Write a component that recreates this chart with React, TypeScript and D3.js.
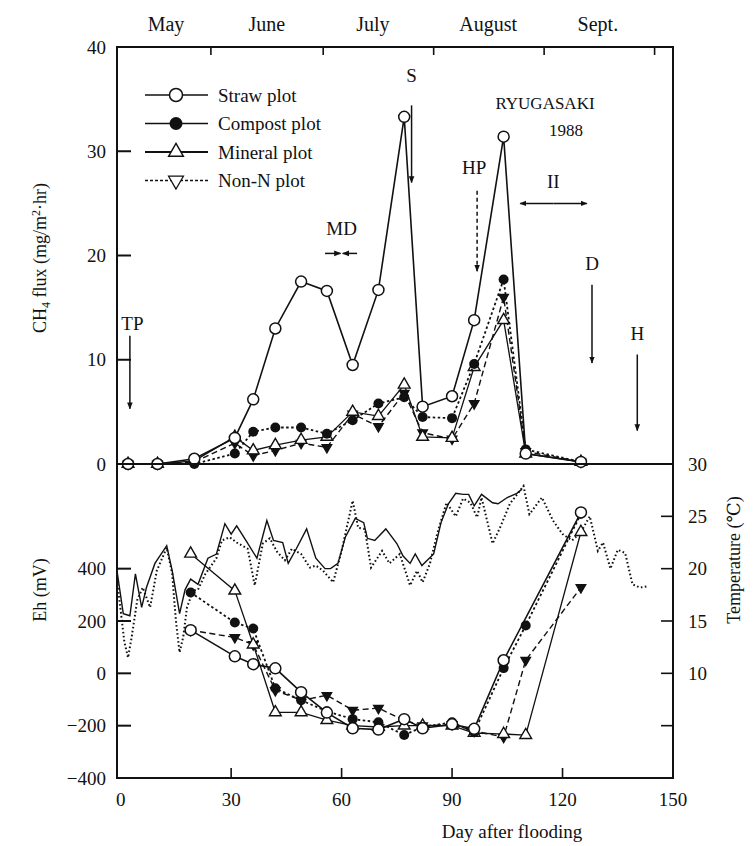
import React, { useRef, useEffect } from 'react';
import * as d3 from 'd3';

// CH4 flux sampling days and values (mg/m2/hr)
const fluxDays = [2, 10, 20, 31, 36, 42, 49, 56, 63, 70, 77, 82, 90, 96, 104, 110, 125];
const strawFlux = [0, 0, 0.5, 2.5, 6.2, 13.0, 17.5, 16.6, 9.5, 16.7, 33.3, 5.5, 6.5, 13.8, 31.4, 1.0, 0.2];
const compostFlux = [0, 0, 0, 1.0, 3.1, 3.5, 3.5, 2.9, 4.2, 5.8, 6.4, 4.5, 4.4, 9.6, 17.7, 1.4, 0.2];
const mineralFlux = [0, 0, 0.3, 2.6, 1.3, 1.8, 2.3, 2.6, 5.0, 4.6, 7.6, 2.6, 2.5, 9.3, 13.8, 1.0, 0.2];
const nonNFlux = [0, 0, 0.2, 2.0, 0.8, 1.3, 2.0, 1.6, 4.8, 3.6, 6.8, 3.0, 2.4, 5.8, 16.0, 1.2, 0.2];

// Eh (mV)
const ehDays = [19, 31, 36, 42, 49, 56, 63, 70, 77, 82, 90, 96, 104, 110, 125];
const strawEh = [165, 65, 35, 19, -72, -150, -210, -215, -175, -210, -195, -212, 50, null, 615];
const compostEh = [309, 194, 171, -57, -103, -145, -175, -187, -236, -205, -187, -225, 20, 183, 610];
const mineralEh = [457, 316, 110, -149, -149, -179, -200, -205, -200, -200, -200, -228, -232, -236, 540];
const nonNEh = [165, 137, 110, -65, -103, -84, -141, -133, -180, -200, -195, -220, -244, 50, 328];

// temperature (C), two daily records
const tempSolidDays = [-1, 0.7, 2.5, 4, 5.7, 7, 9.3, 12.5, 14, 16, 17.5, 19, 21, 23.7, 26, 28.3, 30, 31.5, 34, 37, 39.7, 41.5, 44, 45.5, 47.7, 50.5, 53, 55.5, 57, 59, 61, 63.7, 66, 67, 69, 72, 75, 76.7, 78.6, 80, 81.8, 85, 87, 89, 91, 93, 94.5, 96, 98, 101, 102.5, 105, 107.6, 109];
const tempSolid = [19.8, 15.7, 15.5, 19.5, 16.3, 18.2, 20.5, 22.2, 19.8, 15.7, 18, 19, 18.5, 21, 21.4, 24.3, 23.3, 24.1, 22.7, 21, 24.6, 22.7, 22.5, 20.5, 21.9, 23.8, 21, 20.0, 20, 20.5, 23, 24.8, 24.4, 22.9, 22.7, 23.8, 22.4, 21.2, 20.5, 21.4, 20.3, 21.4, 24.4, 26.2, 27.2, 27.1, 27.1, 26, 27.1, 26.3, 26.2, 26.8, 27.2, 27.6];
const tempDottedDays = [-1, 0, 1, 2, 3, 4.5, 6, 8, 9.8, 12.5, 14, 15, 16, 17, 18, 19.7, 21, 23, 26, 27.5, 29.6, 31.5, 34.5, 36.4, 38.6, 40.5, 42.5, 44.6, 46.5, 49, 51.4, 53, 55, 57.7, 60, 63, 64.5, 66.3, 68, 71, 73, 75.8, 78.6, 80.5, 82, 84, 86, 88.5, 91, 93, 95, 96.8, 98, 101, 103, 105.7, 109.4, 111, 114.4, 117.4, 120, 122.6, 125, 127.4, 129.6, 131, 133, 135, 137, 139, 141, 143];
const tempDotted = [18.9, 16, 13, 11.5, 13.5, 17, 18.2, 16.3, 19.8, 22, 19.5, 15, 12, 13.5, 16.3, 17.9, 18, 19.5, 21, 22.7, 23, 22.5, 21.9, 18.4, 22.4, 22.9, 21.6, 20.8, 21.9, 21.4, 20.1, 20.3, 19.8, 18.7, 21.7, 26.5, 23.9, 23.8, 20.1, 21.7, 20.5, 21.4, 18.4, 19.8, 18.7, 20.5, 23.4, 26.3, 25, 26.7, 26.3, 24.9, 26.8, 22.4, 23.9, 26.2, 27.9, 25.2, 26.8, 24.6, 23.3, 22.7, 23.5, 25, 21.7, 22.5, 20, 21.8, 21.5, 18.5, 18.2, 18.3];

const xTicks = [0, 30, 60, 90, 120, 150];
const fluxTicks = [0, 10, 20, 30, 40];
const ehTicks = [-400, -200, 0, 200, 400];
const tempTicks = [10, 15, 20, 25, 30];
const months = ['May', 'June', 'July', 'August', 'Sept.'];
const monthMid = [12.3, 39.7, 68.5, 99.8, 129.6];
const monthEnds = [24.5, 55, 85, 115, 145];
const legendNames = ['Straw plot', 'Compost plot', 'Mineral plot', 'Non-N plot'];

const FONT = 'Liberation Serif, Times New Roman, DejaVu Serif, serif';

const App = () => {
  const svgRef = useRef(null);

  useEffect(() => {
    const svg = d3.select(svgRef.current);
    svg.selectAll('*').remove();

    const x = d3.scaleLinear().domain([-1, 150]).range([117, 673]);
    const yFlux = d3.scaleLinear().domain([0, 40]).range([464, 47]);
    const yEh = d3.scaleLinear().domain([-400, 800]).range([778, 464]);
    const yT = d3.scaleLinear().domain([0, 30]).range([778, 464]);

    const defs = svg.append('defs');
    defs.append('marker')
      .attr('id', 'head')
      .attr('viewBox', '0 0 10 10')
      .attr('refX', 9).attr('refY', 5)
      .attr('markerWidth', 7).attr('markerHeight', 7)
      .attr('orient', 'auto-start-reverse')
      .attr('markerUnits', 'userSpaceOnUse')
      .append('path').attr('d', 'M0,1 L10,5 L0,9 Z').attr('fill', '#111');

    const styles = {
      straw: { dash: null, w: 1.6 },
      compost: { dash: '2.5,2.5', w: 1.8 },
      mineral: { dash: null, w: 1.3 },
      nonN: { dash: '6,3.5', w: 1.4 },
    };

    const drawMarker = (g, kind, cx, cy, legend = false) => {
      if (kind === 'straw') {
        g.append('circle').attr('cx', cx).attr('cy', cy).attr('r', legend ? 6.5 : 5.5)
          .attr('fill', '#fff').attr('stroke', '#111').attr('stroke-width', 1.5);
      } else if (kind === 'compost') {
        g.append('circle').attr('cx', cx).attr('cy', cy).attr('r', legend ? 6.5 : 5)
          .attr('fill', '#111');
      } else if (kind === 'mineral') {
        g.append('path').attr('d', d3.symbol(d3.symbolTriangle, legend ? 95 : 60)())
          .attr('transform', `translate(${cx},${cy})`)
          .attr('fill', '#fff').attr('stroke', '#111').attr('stroke-width', 1.4);
      } else {
        g.append('path').attr('d', d3.symbol(d3.symbolTriangle, legend ? 95 : 40)())
          .attr('transform', `translate(${cx},${cy}) rotate(180)`)
          .attr('fill', legend ? '#fff' : '#111').attr('stroke', '#111').attr('stroke-width', 1.3);
      }
    };

    const drawSeries = (days, vals, y, kind) => {
      const pts = days.map((d, i) => [d, vals[i]]).filter((p) => p[1] !== null);
      const line = d3.line().x((d) => x(d[0])).y((d) => y(d[1]));
      const g = svg.append('g');
      g.append('path').attr('d', line(pts)).attr('fill', 'none')
        .attr('stroke', '#111').attr('stroke-width', styles[kind].w)
        .attr('stroke-dasharray', styles[kind].dash);
      pts.forEach((p) => drawMarker(g, kind, x(p[0]), y(p[1])));
    };

    // temperature lines first (behind)
    const tLine = d3.line().x((d) => x(d[0])).y((d) => yT(d[1]));
    svg.append('path')
      .attr('d', tLine(tempDottedDays.map((d, i) => [d, tempDotted[i]])))
      .attr('fill', 'none').attr('stroke', '#111').attr('stroke-width', 2)
      .attr('stroke-dasharray', '1.6,2.4');
    svg.append('path')
      .attr('d', tLine(tempSolidDays.map((d, i) => [d, tempSolid[i]])))
      .attr('fill', 'none').attr('stroke', '#111').attr('stroke-width', 1.4);

    // flux series
    drawSeries(fluxDays, nonNFlux, yFlux, 'nonN');
    drawSeries(fluxDays, mineralFlux, yFlux, 'mineral');
    drawSeries(fluxDays, compostFlux, yFlux, 'compost');
    drawSeries(fluxDays, strawFlux, yFlux, 'straw');

    // Eh series
    drawSeries(ehDays, nonNEh, yEh, 'nonN');
    drawSeries(ehDays, mineralEh, yEh, 'mineral');
    drawSeries(ehDays, compostEh, yEh, 'compost');
    drawSeries(ehDays, strawEh, yEh, 'straw');

    // frames
    const axisG = svg.append('g').attr('stroke', '#111').attr('fill', 'none');
    axisG.append('rect').attr('x', x(-1)).attr('y', yFlux(40))
      .attr('width', x(150) - x(-1)).attr('height', yFlux(0) - yFlux(40)).attr('stroke-width', 2);
    axisG.append('rect').attr('x', x(-1)).attr('y', yEh(800))
      .attr('width', x(150) - x(-1)).attr('height', yEh(-400) - yEh(800)).attr('stroke-width', 2);

    // ticks
    fluxTicks.filter((t) => t > 0 && t < 40).forEach((t) => {
      axisG.append('line').attr('x1', x(-1)).attr('x2', x(-1) + 14)
        .attr('y1', yFlux(t)).attr('y2', yFlux(t)).attr('stroke-width', 2);
    });
    ehTicks.filter((t) => t > -400).forEach((t) => {
      axisG.append('line').attr('x1', x(-1)).attr('x2', x(-1) + 14)
        .attr('y1', yEh(t)).attr('y2', yEh(t)).attr('stroke-width', 2);
    });
    [5, 10, 15, 20, 25].forEach((t) => {
      axisG.append('line').attr('x1', x(150)).attr('x2', x(150) - 12)
        .attr('y1', yT(t)).attr('y2', yT(t)).attr('stroke-width', 1.6);
    });
    xTicks.filter((t) => t > 0 && t < 150).forEach((t) => {
      axisG.append('line').attr('x1', x(t)).attr('x2', x(t))
        .attr('y1', yEh(-400)).attr('y2', yEh(-400) - 10).attr('stroke-width', 1.6);
    });
    monthEnds.forEach((t) => {
      axisG.append('line').attr('x1', x(t)).attr('x2', x(t))
        .attr('y1', yFlux(40)).attr('y2', yFlux(40) + 8).attr('stroke-width', 1.6);
    });

    // tick labels
    const txt = svg.append('g').style('font-family', FONT).attr('fill', '#111').style('font-size', '19px');
    fluxTicks.forEach((t) => {
      txt.append('text').attr('x', 106).attr('y', yFlux(t)).attr('dy', '0.35em')
        .attr('text-anchor', 'end').text(t);
    });
    ehTicks.forEach((t) => {
      txt.append('text').attr('x', 106).attr('y', yEh(t)).attr('dy', '0.35em')
        .attr('text-anchor', 'end').text(t < 0 ? `\u2212${-t}` : t);
    });
    tempTicks.forEach((t) => {
      txt.append('text').attr('x', 688).attr('y', yT(t)).attr('dy', '0.35em')
        .attr('text-anchor', 'start').text(t);
    });
    xTicks.forEach((t) => {
      txt.append('text').attr('x', x(t)).attr('y', 806).attr('text-anchor', 'middle').text(t);
    });
    months.forEach((m, i) => {
      txt.append('text').attr('x', x(monthMid[i])).attr('y', 31).attr('text-anchor', 'middle')
        .style('font-size', '20px').text(m);
    });
    txt.append('text').attr('x', 512).attr('y', 838).attr('text-anchor', 'middle').text('Day after flooding');

    const fluxLabel = txt.append('text')
      .attr('transform', 'translate(46,258) rotate(-90)').attr('text-anchor', 'middle').style('font-size', '18px');
    fluxLabel.append('tspan').text('CH');
    fluxLabel.append('tspan').style('font-size', '12px').attr('dy', 4).text('4');
    fluxLabel.append('tspan').attr('dy', -4).text(' flux (mg/m');
    fluxLabel.append('tspan').style('font-size', '12px').attr('dy', -6).text('2');
    fluxLabel.append('tspan').attr('dy', 6).text('\u00b7hr)');
    txt.append('text').attr('transform', 'translate(46,590) rotate(-90)')
      .attr('text-anchor', 'middle').style('font-size', '18px').text('Eh (mV)');
    txt.append('text').attr('transform', 'translate(740,560) rotate(-90)')
      .attr('text-anchor', 'middle').style('font-size', '18px').text('Temperature (\u2103)');

    txt.append('text').attr('x', 545).attr('y', 109).attr('text-anchor', 'middle').style('font-size', '17px').text('RYUGASAKI');
    txt.append('text').attr('x', 566).attr('y', 136).attr('text-anchor', 'middle').style('font-size', '17px').text('1988');

    // legend
    const lg = svg.append('g');
    legendNames.forEach((name, i) => {
      const kind = ['straw', 'compost', 'mineral', 'nonN'][i];
      const ly = 95 + i * 28.5;
      lg.append('line').attr('x1', 145).attr('x2', 208).attr('y1', ly).attr('y2', ly)
        .attr('stroke', '#111').attr('stroke-width', kind === 'mineral' ? 2 : 1.4)
        .attr('stroke-dasharray', kind === 'nonN' ? '3,2' : null);
      drawMarker(lg, kind, 176, ly, true);
      lg.append('text').attr('x', 218).attr('y', ly).attr('dy', '0.35em')
        .style('font-family', FONT).style('font-size', '19px').attr('fill', '#111').text(name);
    });

    // event annotations
    const arrow = (x1, y1, x2, y2, dash = null) => {
      svg.append('line').attr('x1', x1).attr('y1', y1).attr('x2', x2).attr('y2', y2)
        .attr('stroke', '#111').attr('stroke-width', 1.5)
        .attr('stroke-dasharray', dash).attr('marker-end', 'url(#head)');
    };
    const label = (lx, ly, t) => {
      txt.append('text').attr('x', lx).attr('y', ly).attr('text-anchor', 'middle').text(t);
    };
    label(x(3.2), yFlux(12.9), 'TP');
    arrow(x(2.5), yFlux(12.3), x(2.5), yFlux(5.3));
    label(x(79), yFlux(36.6), 'S');
    arrow(x(79), yFlux(34.4), x(79), yFlux(27));
    label(x(96), yFlux(27.8), 'HP');
    arrow(x(96.8), yFlux(26.2), x(96.8), yFlux(18.5), '4,3');
    label(x(117.5), yFlux(26.5), 'II');
    arrow(x(117.5), yFlux(25), x(108.5), yFlux(25));
    arrow(x(117.5), yFlux(25), x(126.6), yFlux(25));
    label(x(128), yFlux(18.6), 'D');
    arrow(x(128), yFlux(17.2), x(128), yFlux(9.7));
    label(x(140.3), yFlux(11.9), 'H');
    arrow(x(140.3), yFlux(10.5), x(140.3), yFlux(3.2));
    label(x(60), yFlux(22), 'MD');
    arrow(x(55.5), yFlux(20.2), x(59.7), yFlux(20.2));
    arrow(x(64.2), yFlux(20.2), x(60.3), yFlux(20.2));
  }, []);

  return (
    <svg
      ref={svgRef}
      width={756}
      height={846}
      style={{ position: 'absolute', left: 0, top: 0, background: '#fff' }}
    />
  );
};

export default App;
